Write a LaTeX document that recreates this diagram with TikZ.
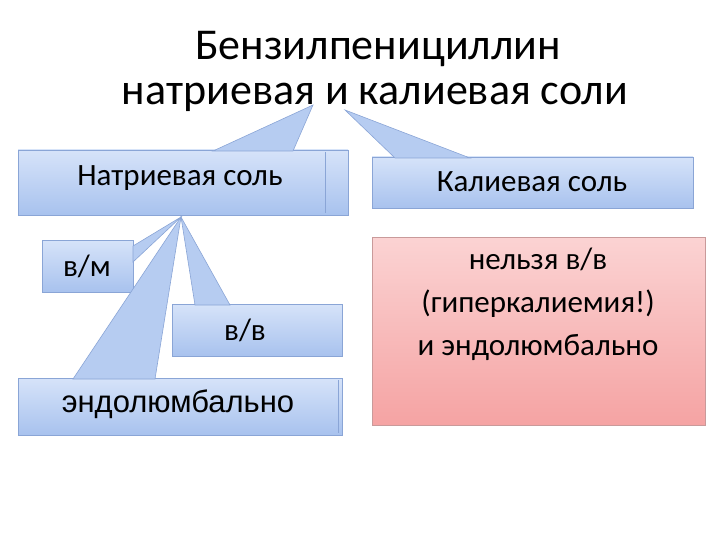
\documentclass[tikz,border=0pt]{standalone}
\usepackage{fontspec}
\setmainfont{Carlito}
\newfontfamily\arialf{Liberation Sans}
\definecolor{btop}{HTML}{D6E3F9}
\definecolor{bbot}{HTML}{A8C2EE}
\definecolor{bline}{HTML}{8AA5D6}
\definecolor{ptop}{HTML}{FBD3D3}
\definecolor{pbot}{HTML}{F5A3A3}
\definecolor{pline}{HTML}{C99A9A}
\begin{document}
\begin{tikzpicture}[x=1pt,y=-1pt,
 bx/.style={draw=bline,line width=0.8pt,top color=btop,bottom color=bbot},
 pk/.style={draw=pline,line width=0.8pt,top color=ptop,bottom color=pbot},
 wedge/.style={draw=bline,line width=0.6pt,fill=bbot!70!btop},
 tx/.style={font=\fontsize{31}{38}\selectfont}]
\useasboundingbox (0,0) rectangle (720,540);
\node[font=\fontsize{44}{50}\selectfont] (t1) at (378,49) {Бензилпенициллин};
\node[font=\fontsize{44}{50}\selectfont] (t2) at (375,97) {натриевая и калиевая соли};
\coordinate (a1) at (313,105);
\coordinate (a2) at (345,110);
\coordinate (a3) at (181,217);
% boxes
\path[bx] (18,150) rectangle (348,215);
\draw[bline] (325,152) -- (325,213);
\node[tx] (na) at (180,178) {Натриевая соль};
\draw[wedge] (a1) -- (213,151) -- (293,151) -- cycle;
\path[bx] (372,157) rectangle (693,208);
\node[tx] (ka) at (532,182) {Калиевая соль};
\draw[wedge] (a2) -- (395,158) -- (470,158) -- cycle;
\path[pk] (372,237) rectangle (705,425);
\node[tx,align=center] (pkt) at (538,304) {нельзя в/в\\[5pt](гиперкалиемия!)\\[5pt]и эндолюмбально};
\path[bx] (42,240) rectangle (133,292);
\node[tx] (vm) at (87,266) {в/м};
\path[bx] (172,304) rectangle (342,356);
\node[tx] (vv) at (245,330) {в/в};
\path[bx] (18,378) rectangle (342,435);
\draw[bline] (338,380) -- (338,433);
\node[font=\arialf\fontsize{31}{36}\selectfont] (en) at (178,404) {эндолюмбально};
\draw[wedge] (a3) -- (133,246) -- (133,262) -- cycle;
\draw[wedge] (a3) -- (195,305) -- (230,305) -- cycle;
\draw[wedge] (a3) -- (73,379) -- (155,379) -- cycle;
\end{tikzpicture}
\end{document}
